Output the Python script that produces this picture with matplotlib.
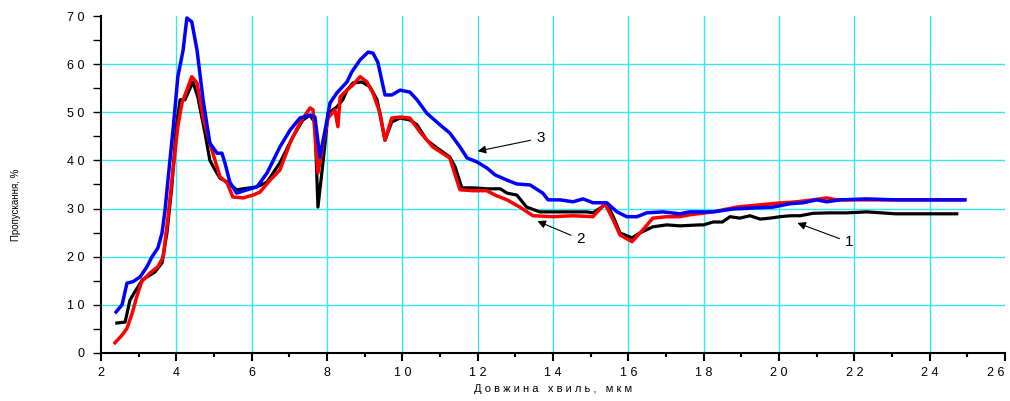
import numpy as np
import matplotlib
matplotlib.use("Agg")
import matplotlib.pyplot as plt
from matplotlib.ticker import MultipleLocator

plt.rcParams['font.family'] = ['Liberation Sans', 'DejaVu Sans']

# крива 1 (чорна)
x1 = [2.42, 2.64, 2.77, 2.9, 3.1, 3.43, 3.62, 3.75, 3.88, 4.0, 4.1, 4.23, 4.44, 4.57, 4.76,
      4.89, 5.03, 5.16, 5.35, 5.6, 5.96, 6.14, 6.41, 6.75, 7.1, 7.36, 7.55, 7.68, 7.76, 7.9,
      8.03, 8.26, 8.42, 8.53, 8.69, 8.93, 9.14, 9.33, 9.54, 9.72, 9.94, 10.2, 10.39, 10.65,
      10.92, 11.26, 11.4, 11.58, 11.88, 12.25, 12.6, 12.78, 13.04, 13.3, 13.65, 14.37, 14.9,
      15.06, 15.43, 15.6, 15.78, 16.1, 16.3, 16.65, 17.02, 17.37, 17.9, 18.0, 18.25, 18.5,
      18.7, 18.96, 19.23, 19.5, 19.76, 20.03, 20.3, 20.56, 20.9, 21.35, 21.8, 22.33, 23.1,
      24.0, 24.72]
y1 = [6.2, 6.4, 11.0, 12.7, 15.2, 16.8, 18.7, 24.9, 34.5, 47.0, 52.6, 52.6, 56.3, 53.2, 45.7,
      40.0, 38.0, 36.3, 35.5, 33.9, 34.3, 34.5, 35.5, 39.5, 45.0, 48.4, 49.4, 47.8, 30.3, 40.0,
      49.8, 51.1, 52.6, 54.6, 56.1, 56.3, 55.3, 52.6, 44.2, 48.0, 48.8, 48.4, 47.4, 44.2,
      42.6, 40.7, 38.7, 34.3, 34.3, 34.1, 34.1, 33.2, 32.8, 30.3, 29.3, 29.3, 29.3,
      29.1, 31.0, 28.3, 24.9, 23.9, 24.9, 26.2, 26.6, 26.4, 26.6, 26.6, 27.2, 27.2,
      28.3, 28.0, 28.5, 27.8, 28.0, 28.3, 28.5, 28.5, 29.0, 29.1, 29.1, 29.3, 28.9,
      28.9, 28.9]

# крива 2 (червона)
x2 = [2.37, 2.56, 2.69, 2.83, 2.95, 3.08, 3.3, 3.51, 3.65, 3.78, 3.92, 4.04, 4.15, 4.28, 4.41,
      4.55, 4.71, 4.89, 5.16, 5.35, 5.5, 5.77, 6.04, 6.22, 6.49, 6.75, 7.02, 7.28, 7.55, 7.63,
      7.76, 7.9, 8.03, 8.21, 8.29, 8.35, 8.53, 8.69, 8.88, 9.06, 9.22, 9.41, 9.54, 9.72, 9.94,
      10.2, 10.47, 10.81, 11.26, 11.53, 11.88, 12.25, 12.46, 12.78, 13.12, 13.47, 14.0, 14.53,
      15.06, 15.38, 15.6, 15.78, 16.1, 16.39, 16.65, 17.02, 17.37, 17.63, 18.25, 18.88, 19.41,
      19.94, 20.48, 20.9, 21.27, 21.53, 22.07, 22.68, 23.56, 24.0, 24.9]
y2 = [2.1, 3.7, 5.1, 8.3, 11.7, 14.8, 16.6, 17.9, 19.9, 28.3, 38.6, 47.0, 51.9, 54.6, 57.4,
      56.1, 49.0, 43.6, 36.6, 35.3, 32.4, 32.2, 32.8, 33.4, 35.9, 38.0, 43.6, 47.8, 50.9, 50.5,
      37.4, 43.6, 48.8, 50.5, 47.0, 53.2, 54.6, 55.7, 57.4, 56.3, 54.0, 49.8, 44.2, 48.8, 49.0,
      48.8, 45.9, 42.8, 40.5, 33.9, 33.7, 33.7, 32.8, 31.8, 30.3, 28.5, 28.3, 28.5,
      28.3, 31.0, 27.6, 24.5, 23.1, 25.6, 28.0, 28.3, 28.3, 28.7, 29.3, 30.3, 30.7,
      31.1, 31.4, 31.8, 32.2, 31.8, 31.8, 31.8, 31.8, 31.8, 31.8]

# крива 3 (синя)
x3 = [2.4, 2.56, 2.69, 2.85, 3.04, 3.22, 3.35, 3.51, 3.62, 3.7, 3.83, 3.92, 4.04, 4.18, 4.28,
      4.41, 4.55, 4.71, 4.89, 5.08, 5.21, 5.29, 5.42, 5.6, 5.88, 6.14, 6.41, 6.75, 7.02, 7.28,
      7.55, 7.68, 7.81, 7.95, 8.08, 8.26, 8.53, 8.66, 8.88, 9.09, 9.22, 9.35, 9.54, 9.72, 9.94,
      10.2, 10.39, 10.65, 11.0, 11.26, 11.53, 11.72, 11.98, 12.25, 12.46, 12.78, 13.04, 13.39,
      13.73, 13.87, 14.19, 14.53, 14.8, 15.06, 15.43, 15.7, 15.96, 16.23, 16.49, 16.92, 17.37,
      17.63, 18.25, 18.78, 19.31, 19.84, 20.3, 20.64, 21.0, 21.27, 21.62, 22.33, 23.1, 24.0,
      24.94]
y3 = [8.5, 10.0, 14.5, 14.8, 15.8, 17.9, 19.9, 21.8, 24.9, 29.7, 40.0, 47.0, 57.4, 62.9, 69.6,
      68.8, 62.9, 52.6, 43.6, 41.5, 41.5, 39.5, 35.5, 33.2, 33.9, 34.5, 37.4, 42.8, 46.3, 48.8,
      49.4, 49.0, 40.7, 46.3, 51.9, 54.0, 56.3, 58.4, 60.9, 62.5, 62.3, 60.4, 53.6, 53.6, 54.6,
      54.2, 52.6, 49.8, 47.4, 45.7, 42.8, 40.5, 39.7, 38.4, 37.0, 35.9, 35.1, 34.9,
      33.2, 31.8, 31.8, 31.4, 32.0, 31.2, 31.2, 29.3, 28.3, 28.3, 29.1, 29.3, 28.9,
      29.3, 29.3, 29.9, 30.1, 30.3, 31.0, 31.2, 31.8, 31.4, 31.8, 32.0, 31.8, 31.8,
      31.8]

xticks = np.arange(2, 27, 2)
yticks = np.arange(0, 71, 10)

def spaced(s):
    return " ".join(s)

fig = plt.figure(figsize=(10.1, 4.01), dpi=100)
ax = fig.add_axes([0.1, 0.12, 0.895, 0.84])

ax.set_xlim(2, 26)
ax.set_ylim(0, 70)

for v in xticks[1:-1]:
    ax.axvline(v, color='#33e6f0', lw=1.0, zorder=1)
for v in yticks[1:-1]:
    ax.axhline(v, color='#33e6f0', lw=1.0, zorder=1)

ax.plot(x1, y1, color='black', lw=2.3, zorder=3)
ax.plot(x2, y2, color='#ff0000', lw=2.5, zorder=4)
ax.plot(x3, y3, color='#0000ff', lw=2.5, zorder=5)

arr = dict(arrowstyle='-|>', color='black', lw=0.8, mutation_scale=12)
ax.annotate('3', xy=(11.93, 41.8), xytext=(13.55, 44.6), fontsize=11, ha='left', va='center',
            arrowprops=arr)
ax.annotate('2', xy=(13.52, 27.6), xytext=(14.62, 23.6), fontsize=11, ha='left', va='center',
            arrowprops=arr)
ax.annotate('1', xy=(20.42, 27.2), xytext=(21.75, 23.0), fontsize=11, ha='left', va='center',
            arrowprops=arr)

ax.spines['top'].set_visible(False)
ax.spines['right'].set_visible(False)
ax.spines['left'].set_linewidth(1.5)
ax.spines['bottom'].set_linewidth(1.5)

ax.set_xticks(xticks)
ax.set_xticklabels([spaced(str(t)) for t in xticks])
ax.get_xticklabels()[-1].set_horizontalalignment('right')
ax.set_yticks(yticks)
ax.set_yticklabels([spaced(str(t)) for t in yticks])
ax.xaxis.set_minor_locator(MultipleLocator(1))
ax.yaxis.set_minor_locator(MultipleLocator(5))
ax.tick_params(axis='x', which='major', length=6, width=1.5, labelsize=9, pad=4)
ax.tick_params(axis='x', which='minor', length=3, width=1.5)
ax.tick_params(axis='y', which='both', length=6, width=1.0, labelsize=9, pad=6)

ax.set_xlabel(spaced("Довжина хвиль, мкм"), fontsize=8, labelpad=4)
ax.set_ylabel("Пропускання, %", fontsize=7)
ax.yaxis.set_label_coords(-0.088, 0.44)

fig.savefig("out.png", dpi=100)
